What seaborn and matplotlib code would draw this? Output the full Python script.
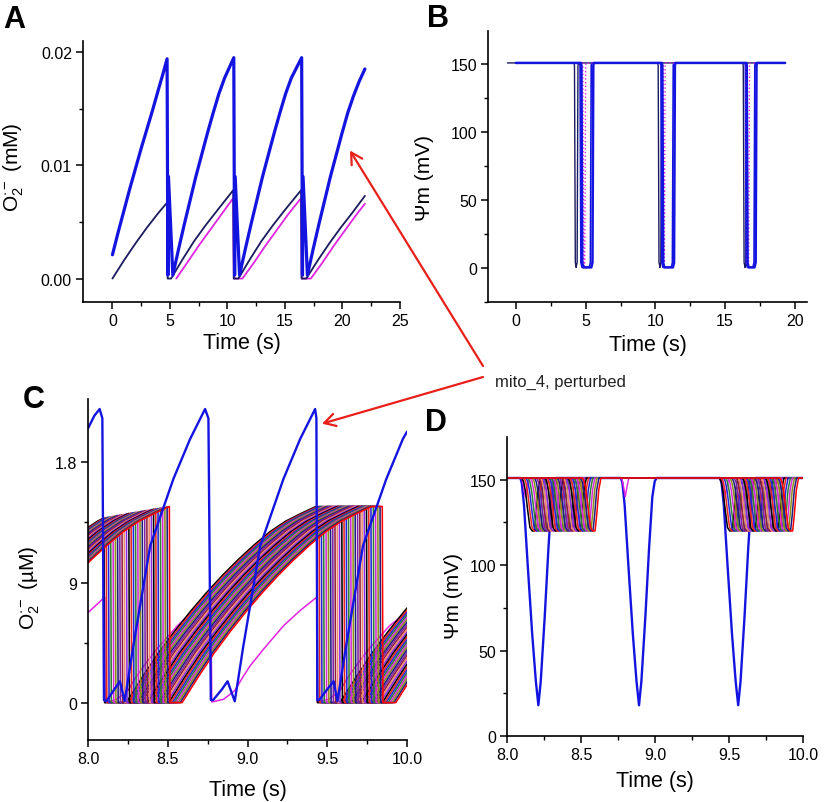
import numpy as np
import pandas as pd
import matplotlib
matplotlib.use("Agg")
import matplotlib.pyplot as plt
import seaborn as sns
from matplotlib.patches import ConnectionPatch

# ---------------- data ----------------
# Panel A: O2.- (mM) vs time (s)
A_BLUE_T = [0.0, 0.5, 1.0, 1.5, 2.0, 2.5, 3.0, 3.5, 4.0, 4.4, 4.75, 4.82, 4.87, 5.25,
            5.75, 6.25, 6.75, 7.25, 7.75, 8.25, 8.75, 9.25, 9.75, 10.55, 10.62, 10.67, 11.05,
            11.55, 12.05, 12.55, 13.05, 13.55, 14.05, 14.55, 15.05, 15.55, 16.45, 16.52, 16.57, 16.95,
            17.45, 17.95, 18.45, 18.95, 19.45, 19.95, 20.45, 20.95, 21.45, 21.95]
A_BLUE_V = [0.0021, 0.0041, 0.0060, 0.0079, 0.0097, 0.0115, 0.0132, 0.0149, 0.0167, 0.0181, 0.0194,
            0.0003, 0.0090, 0.0003,
            0.0026, 0.0048, 0.0069, 0.0090, 0.0109, 0.0128, 0.0146, 0.0163, 0.0177, 0.0195,
            0.0003, 0.0090, 0.0003,
            0.0026, 0.0048, 0.0069, 0.0090, 0.0109, 0.0128, 0.0146, 0.0163, 0.0177, 0.0195,
            0.0003, 0.0090, 0.0003,
            0.0026, 0.0048, 0.0069, 0.0090, 0.0109, 0.0128, 0.0146, 0.0161, 0.0174, 0.0185]
A_NAVY_T = [0.0, 1.0, 2.0, 3.0, 4.0, 4.75, 4.80, 5.10, 6.1, 7.1, 8.1, 9.1, 10.5,
            10.55, 10.95, 11.95, 12.95, 13.95, 14.95, 16.40, 16.45, 16.85,
            17.85, 18.85, 19.85, 20.85, 21.95]
A_NAVY_V = [0.0, 0.0016, 0.0031, 0.0045, 0.0058, 0.0067, 0.0, 0.0, 0.0017, 0.0033,
            0.0047, 0.0060, 0.0078, 0.0, 0.0, 0.0017, 0.0033, 0.0047, 0.0060, 0.0078,
            0.0, 0.0, 0.0016, 0.0031, 0.0045, 0.0058, 0.0073]
A_MAG_T = [5.55, 6.5, 7.5, 8.5, 9.5, 10.50, 10.55, 11.30, 12.3, 13.3, 14.3, 15.3,
           16.40, 16.45, 17.25, 18.25, 19.25, 20.25, 21.25, 21.95]
A_MAG_V = [0.0, 0.0014, 0.0029, 0.0043, 0.0057, 0.0071, 0.0, 0.0, 0.0014, 0.0029,
           0.0043, 0.0057, 0.0071, 0.0, 0.0, 0.0014, 0.0029, 0.0043, 0.0057, 0.0066]

# Panel B: membrane potential (mV); each trace = list of (down, up) times
B_REST = 151.0
B_NAVY_DIPS = [(4.20, 4.45), (10.20, 10.45), (16.30, 16.55)]
B_MAG_DIPS = [(4.80, 5.00), (10.55, 10.70), (16.50, 16.75)]
B_BLUE_DIPS = [(4.60, 5.40), (10.40, 11.28), (16.45, 17.13)]
B_BLUE2_DIPS = [(4.70, 5.55), (10.50, 11.40), (16.55, 17.25)]

# Panel C/D: the other mitochondria
# rise start before the window, first O2 drop, rise start after that drop
R0_TIMES = [7.060, 7.069, 7.078, 7.087, 7.096, 7.105, 7.114, 7.123, 7.132, 7.141,
            7.150, 7.159, 7.168, 7.177, 7.186, 7.195, 7.204, 7.213, 7.222, 7.231,
            7.240, 7.249, 7.258, 7.267, 7.276, 7.285, 7.294, 7.303, 7.312, 7.320]
ONSETS = [8.100, 8.114, 8.128, 8.142, 8.157, 8.171, 8.185, 8.199, 8.213, 8.227,
          8.241, 8.256, 8.270, 8.284, 8.298, 8.312, 8.326, 8.340, 8.355, 8.369,
          8.383, 8.397, 8.411, 8.425, 8.439, 8.454, 8.468, 8.482, 8.496, 8.510]
R1_TIMES = [8.240, 8.252, 8.264, 8.276, 8.288, 8.300, 8.312, 8.324, 8.337, 8.349,
            8.361, 8.373, 8.385, 8.397, 8.409, 8.421, 8.433, 8.445, 8.457, 8.469,
            8.481, 8.493, 8.506, 8.518, 8.530, 8.542, 8.554, 8.566, 8.578, 8.590]
PERIOD_DROP = 1.335
PERIOD_RISE = 1.34
# O2 rise after a drop (s after rise start, uM)
RISE_DT = [0, 0.1, 0.2, 0.3, 0.4, 0.5, 0.6, 0.7, 0.8, 0.9, 1.0, 1.1, 1.19]
RISE_VAL = [0, 1.9, 3.7, 5.3, 6.8, 8.2, 9.5, 10.7, 11.8, 12.8, 13.6, 14.2, 14.7]
# membrane potential dip shape (s after dip start, mV)
DIP_DT = [0.000, 0.012, 0.025, 0.040, 0.055, 0.070, 0.085, 0.097, 0.110, 0.125]
DIP_VAL = [151, 149, 143, 132, 122, 120, 120, 130, 144, 151]

# perturbed mito_4 (blue) in C
BLUE_C_T = [8.00, 8.04, 8.073, 8.090, 8.100, 8.115, 8.16, 8.20, 8.23, 8.284, 8.39,
            8.535, 8.64, 8.734, 8.755, 8.770, 8.785, 8.84, 8.875, 8.92, 8.974, 9.08,
            9.225, 9.33, 9.424, 9.432, 9.438, 9.45, 9.50, 9.54, 9.564, 9.618, 9.724,
            9.87, 9.974, 10.0]
BLUE_C_V = [20.55, 21.5, 22.0, 21.3, 0.2, 0.1, 0.9, 1.6, 0.1, 4.25, 11.75,
            16.75, 19.75, 22.0, 21.3, 0.2, 0.2, 1.0, 1.6, 0.1, 4.25, 11.75,
            16.75, 19.75, 22.0, 21.3, 0.2, 0.2, 1.0, 1.6, 0.1, 4.25, 11.75,
            16.75, 19.75, 20.3]
MAG_C_T = [8.0, 8.105, 8.107, 8.18, 8.25, 8.30, 8.35, 8.43, 8.56, 8.66, 8.77,
           8.776, 8.85, 8.92, 8.97, 9.016, 9.10, 9.225, 9.33, 9.434,
           9.437, 9.51, 9.58, 9.63, 9.68, 9.76, 9.89, 10.0]
MAG_C_V = [6.75, 7.9, 0.0, 0.25, 0.9, 1.9, 2.75, 4.0, 5.75, 6.9, 7.9,
           0.05, 0.25, 0.9, 1.9, 2.75, 4.0, 5.75, 6.9, 7.9,
           0.05, 0.25, 0.9, 1.9, 2.75, 4.0, 5.75, 6.8]

# D: blue deep dips and magenta small dips
BLUE_D_STARTS = [8.09, 8.77, 9.44]
BLUE_DIP_DT = [0, 0.01, 0.025, 0.05, 0.08, 0.105, 0.122, 0.138, 0.165, 0.19, 0.212, 0.228, 0.24]
BLUE_DIP_VAL = [151, 148, 135, 100, 60, 32, 18, 32, 70, 110, 140, 149, 151]
MAG_D_STARTS = [8.10, 8.775, 9.45]
MAG_DIP_DT = [0, 0.012, 0.024, 0.036, 0.048]
MAG_DIP_VAL = [151, 146, 140, 146, 151]

BAND_COLORS = ["#000000", "#e8251e", "#2424d8", "#2e7d32", "#d42ad4", "#8c8c1a",
               "#1c1c7c", "#7d22a8", "#8e1c3c", "#ee8a6a", "#8a2be2"]

BLUE = "#1414e0"
NAVY = "#1a1a5e"
MAGENTA = "#e024e0"
RED = "#e8201a"


# ---------------- helpers ----------------
def dip_trace(start, end, dips):
    t, v = [start], [B_REST]
    for d, u in dips:
        t += [d - 0.03, d, d + 0.06, d + 0.14, u - 0.14, u - 0.06, u, u + 0.03]
        v += [B_REST, 149, 4, 0.5, 0.5, 4, 149, B_REST]
    t.append(end)
    v.append(B_REST)
    return t, v


def rise_to(t, v, rs, dr):
    for dt, val in zip(RISE_DT, RISE_VAL):
        if rs + dt < dr:
            t.append(rs + dt)
            v.append(val)
    t.append(dr)
    v.append(float(np.interp(dr - rs, RISE_DT, RISE_VAL)))
    t.append(dr + 0.004)
    v.append(0.0)


def o2_trace(r0, d1, r1):
    t, v = [], []
    rise_to(t, v, r0, d1)
    rise_to(t, v, r1, d1 + PERIOD_DROP)
    rise_to(t, v, r1 + PERIOD_RISE, d1 + 2 * PERIOD_DROP)
    return t, v


def psi_trace(onset):
    t, v = [7.9], [151.0]
    for off in (0.0, PERIOD_DROP):
        for dt, val in zip(DIP_DT, DIP_VAL):
            t.append(onset + off + dt)
            v.append(val)
    t.append(10.1)
    v.append(151.0)
    return t, v


def repeat_dip(starts, dts, vals):
    t, v = [7.9], [vals[0]]
    for s in starts:
        t += [s + d for d in dts]
        v += list(vals)
    t.append(10.1)
    v.append(vals[0])
    return t, v


def line(ax, t, v, color, lw, ls="-"):
    sns.lineplot(x=t, y=v, ax=ax, color=color, linewidth=lw, linestyle=ls,
                 sort=False, estimator=None)


def style(ax, xlim, ylim, xmaj, xminr, ymaj, yminr, xlab, ylab, ylabel,
          ylab_xy, xlab_y):
    ax.set_xlim(*xlim)
    ax.set_ylim(*ylim)
    ax.set_xticks(xmaj)
    ax.set_xticklabels(xlab)
    ax.set_xticks(xminr, minor=True)
    ax.set_yticks(ymaj)
    ax.set_yticklabels(ylab)
    ax.set_yticks(yminr, minor=True)
    sns.despine(ax=ax)
    for s in ["left", "bottom"]:
        ax.spines[s].set_color("black")
        ax.spines[s].set_linewidth(1.2)
    ax.tick_params(which="major", length=5, width=1.1, labelsize=11.5,
                   direction="out", color="black", labelcolor="black", pad=3)
    ax.tick_params(which="minor", length=3, width=1.0, direction="out", color="black")
    ax.set_xlabel("Time (s)", fontsize=15.5, color="black")
    ax.set_ylabel(ylabel, fontsize=15, color="black")
    ax.xaxis.set_label_coords(0.5, xlab_y)
    ax.yaxis.set_label_coords(*ylab_xy)
    ax.set_facecolor("white")


# ---------------- figure ----------------
sns.set_theme(style="ticks")
plt.rcParams["font.family"] = ["Liberation Sans", "DejaVu Sans"]
plt.rcParams["mathtext.fontset"] = "custom"
plt.rcParams["mathtext.rm"] = "Liberation Sans"
plt.rcParams["mathtext.it"] = "Liberation Sans:italic"
plt.rcParams["mathtext.bf"] = "Liberation Sans:bold"

W, H = 825, 803
fig = plt.figure(figsize=(W / 100, H / 100), dpi=100)
fig.patch.set_facecolor("white")


def box(l, r, t, b):
    return [l / W, 1 - b / H, (r - l) / W, (b - t) / H]


axA = fig.add_axes(box(83, 400, 42, 303))
axB = fig.add_axes(box(488, 807, 32, 303))
axC = fig.add_axes(box(88, 407, 400, 741))
axD = fig.add_axes(box(507, 803, 438, 737))

O2_LABEL = r"O$_2^{\cdot -}$"

# A
line(axA, A_MAG_T, A_MAG_V, MAGENTA, 1.3)
line(axA, A_NAVY_T, A_NAVY_V, NAVY, 1.3)
line(axA, A_BLUE_T, A_BLUE_V, BLUE, 2.3)
style(axA, (-2.56, 25), (-0.00207, 0.02097), [0, 5, 10, 15, 20, 25],
      np.arange(0, 25.1, 2.5), [0, 0.01, 0.02], [0.005, 0.015],
      ["0", "5", "10", "15", "20", "25"], ["0.00", "0.01", "0.02"],
      O2_LABEL + " (mM)", (-0.18, 0.52), -0.115)

# B
t, v = dip_trace(-0.6, 19.3, B_NAVY_DIPS)
line(axB, t, v, NAVY, 1.0)
t, v = dip_trace(0.0, 19.3, B_BLUE_DIPS)
line(axB, t, v, BLUE, 1.2)
t, v = dip_trace(0.0, 19.3, B_MAG_DIPS)
line(axB, t, v, MAGENTA, 1.0, ":")
t, v = dip_trace(0.0, 19.3, B_BLUE2_DIPS)
line(axB, t, v, BLUE, 1.8)
style(axB, (-2.0, 20.87), (-25, 174.5), [0, 5, 10, 15, 20],
      np.arange(0, 20.1, 2.5), [0, 50, 100, 150], [-25, 25, 75, 125],
      ["0", "5", "10", "15", "20"], ["0", "50", "100", "150"],
      "Ψm (mV)", (-0.168, 0.46), -0.118)

# C
band_rows = []
for i, (r0, d1, r1) in enumerate(zip(R0_TIMES, ONSETS, R1_TIMES)):
    t, v = o2_trace(r0, d1, r1)
    band_rows.append(pd.DataFrame({"t": t, "v": v, "mito": i}))
band = pd.concat(band_rows, ignore_index=True)
pal = [BAND_COLORS[i % len(BAND_COLORS)] for i in range(len(ONSETS))]
pal[-1] = "#ff0000"

line(axC, MAG_C_T, MAG_C_V, MAGENTA, 1.1)
sns.lineplot(data=band, x="t", y="v", hue="mito", palette=pal, ax=axC,
             linewidth=1.15, sort=False, estimator=None, legend=False)
line(axC, BLUE_C_T, BLUE_C_V, BLUE, 1.7)
style(axC, (8.0, 10.0), (-2.8, 22.75), [8.0, 8.5, 9.0, 9.5, 10.0],
      [8.25, 8.75, 9.25, 9.75], [0, 9, 18], [4.5, 13.5],
      ["8.0", "8.5", "9.0", "9.5", "10.0"], ["0", "9", "1.8"],
      O2_LABEL + " (µM)", (-0.144, 0.45), -0.113)

# D
d_rows = []
for i, o in enumerate(ONSETS):
    t, v = psi_trace(o)
    d_rows.append(pd.DataFrame({"t": t, "v": v, "mito": i}))
dband = pd.concat(d_rows, ignore_index=True)

t, v = repeat_dip(BLUE_D_STARTS, BLUE_DIP_DT, BLUE_DIP_VAL)
line(axD, t, v, BLUE, 1.7)
t, v = repeat_dip(MAG_D_STARTS, MAG_DIP_DT, MAG_DIP_VAL)
line(axD, t, v, MAGENTA, 1.0)
sns.lineplot(data=dband, x="t", y="v", hue="mito", palette=pal, ax=axD,
             linewidth=1.1, sort=False, estimator=None, legend=False)
style(axD, (8.0, 10.0), (0, 175), [8.0, 8.5, 9.0, 9.5, 10.0],
      [8.25, 8.75, 9.25, 9.75], [0, 50, 100, 150], [25, 75, 125],
      ["8.0", "8.5", "9.0", "9.5", "10.0"], ["0", "50", "100", "150"],
      "Ψm (mV)", (-0.149, 0.47), -0.113)

# panel letters
for letter, x, y in [("A", 3, 28), ("B", 427, 27), ("C", 23, 408), ("D", 425, 431)]:
    fig.text(x / W, 1 - y / H, letter, fontsize=22, fontweight="bold",
             ha="left", va="baseline", color="black")

# annotation
fig.text(495 / W, 1 - 382 / H, "mito_4, perturbed", fontsize=12,
         ha="left", va="center", color="#222222")
for start, target, ax in [((483 / W, 1 - 367 / H), (20.65, 0.0113), axA),
                          ((483 / W, 1 - 378 / H), (9.467, 20.9), axC)]:
    con = ConnectionPatch(xyA=start, coordsA="figure fraction", xyB=target,
                          coordsB="data", axesB=ax,
                          arrowstyle="->,head_length=0.8,head_width=0.45",
                          color=RED, lw=1.6)
    fig.add_artist(con)

fig.savefig("out.png", dpi=100, facecolor="white")
